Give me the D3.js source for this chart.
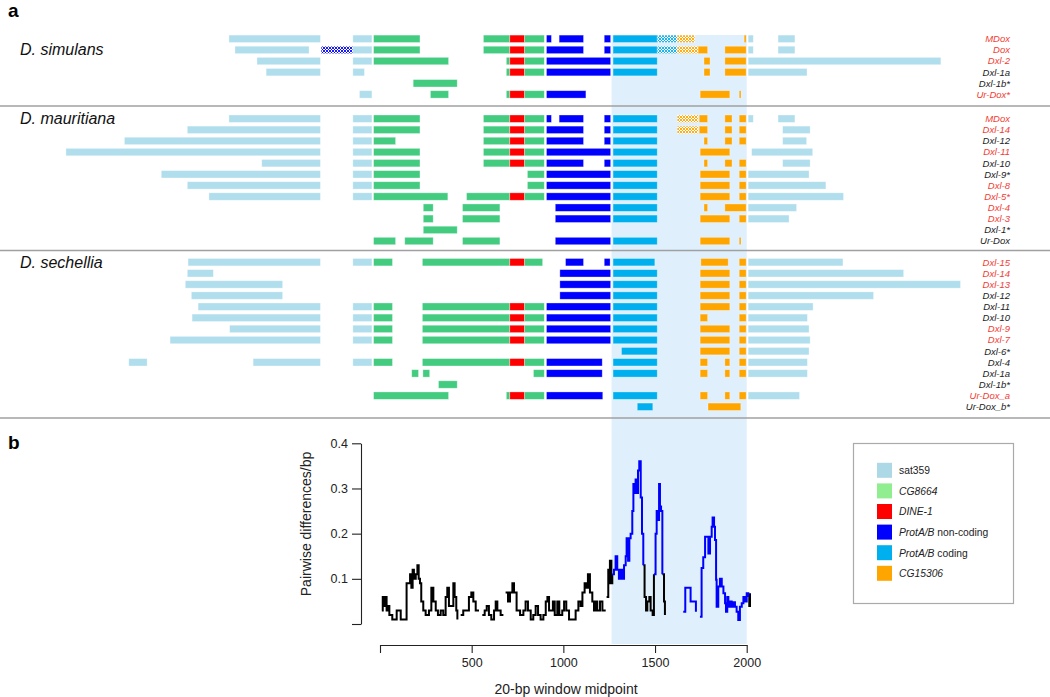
<!DOCTYPE html>
<html>
<head>
<meta charset="utf-8">
<script src="https://cdn.jsdelivr.net/npm/d3@7"></script>
<style>
  body { margin: 0; background: #fff; }
  text { font-family: "Liberation Sans", Arial, Helvetica, sans-serif; }
</style>
</head>
<body>
<script>
const WIDTH = 1050
const HEIGHT = 697

// segment types: s sat359, g CG8664, r DINE-1, n ProtA/B non-coding, c ProtA/B coding, o CG15306
// h* = hatched (partial) version of the same type
const TYPE_COLORS = { s: '#b1deed', g: '#43cc80', r: '#ff0000', n: '#0000ff', c: '#00b0ee', o: '#ffa500' }

const LEGEND_COLORS = ['#add8e6', '#90ee90', '#ff0000', '#0000ff', '#00b0ee', '#ffa500']
const LEGEND_ITALIC = ['', 'CG8664', 'DINE-1', 'ProtA/B', 'ProtA/B', 'CG15306']
const LEGEND_PLAIN = ['sat359', '', '', ' non-coding', ' coding', '']

const SPECIES = ['D. simulans', 'D. mauritiana', 'D. sechellia']

// positions in bp, same coordinates as panel b
const simulans = [
  { label: 'MDox', red: true, segs: [['s',-824,-325],['s',-148,-44],['g',-35,218],['g',564,708],['r',708,789],['g',789,896],['n',908,935],['n',977,1110],['n',1223,1258],['c',1271,1512],['hc',1512,1621],['ho',1621,1717],['o',1986,1997],['s',2008,2036],['s',2171,2263]] },
  { label: 'Dox', red: true, segs: [['s',-791,-387],['hn',-321,-148],['s',-148,-44],['g',-35,218],['g',564,708],['r',708,789],['g',789,896],['n',908,1110],['n',1223,1258],['c',1271,1512],['hc',1512,1621],['ho',1621,1735],['o',1735,1787],['o',1881,1997],['s',2008,2036],['s',2171,2263]] },
  { label: 'Dxl-2', red: true, segs: [['s',-671,-325],['s',-148,-44],['g',-35,374],['g',689,708],['r',708,789],['g',789,896],['n',908,1258],['c',1271,1512],['o',1767,1800],['o',1881,1997],['s',2008,3059]] },
  { label: 'Dxl-1a', red: false, segs: [['s',-621,-325],['s',-148,-85],['g',689,708],['r',708,789],['g',789,896],['n',908,1258],['c',1271,1512],['o',1767,1800],['o',1881,1997],['s',2008,2329]] },
  { label: 'Dxl-1b*', red: false, segs: [['g',181,421]] },
  { label: 'Ur-Dox*', red: true, segs: [['s',-112,-44],['g',275,374],['g',689,708],['r',708,789],['g',789,896],['n',908,1123],['o',1746,1908],['o',1959,1969]] }
]

const mauritiana = [
  { label: 'MDox', red: true, segs: [['s',-824,-325],['s',-148,-44],['g',-35,218],['g',564,708],['r',708,789],['g',789,896],['n',908,935],['n',977,1110],['n',1223,1258],['c',1271,1512],['ho',1621,1735],['o',1741,1787],['o',1881,1920],['o',1959,1997],['s',2008,2036],['s',2171,2263]] },
  { label: 'Dxl-14', red: true, segs: [['s',-1051,-325],['s',-148,-44],['g',-35,218],['g',564,708],['r',708,789],['g',789,896],['n',908,1110],['n',1223,1258],['c',1271,1512],['ho',1621,1735],['o',1741,1787],['o',1881,1920],['o',1959,1997],['s',2196,2346]] },
  { label: 'Dxl-12', red: false, segs: [['s',-1394,-325],['s',-148,-44],['g',-35,85],['g',564,708],['r',708,789],['g',789,896],['n',908,1110],['n',1223,1258],['c',1271,1512],['o',1767,1787],['o',1881,1920],['o',1959,1997],['s',2196,2327]] },
  { label: 'Dxl-11', red: true, segs: [['s',-1713,-325],['s',-148,-44],['g',-35,218],['g',564,708],['r',708,789],['g',789,896],['n',908,1258],['c',1271,1512],['o',1746,1908],['s',2027,2360]] },
  { label: 'Dxl-10', red: false, segs: [['s',-645,-325],['s',-148,-44],['g',-35,218],['g',564,708],['r',708,789],['g',789,896],['n',908,1110],['n',1223,1258],['c',1271,1512],['o',1767,1787],['o',1881,1920],['o',1959,1997],['s',2196,2346]] },
  { label: 'Dxl-9*', red: false, segs: [['s',-1193,-325],['s',-148,-44],['g',-35,218],['g',804,896],['n',908,1258],['c',1271,1512],['o',1746,1908],['o',1959,1997],['s',2008,2340]] },
  { label: 'Dxl-8', red: true, segs: [['s',-1051,-325],['s',-148,-44],['g',-35,218],['g',804,896],['n',908,1258],['c',1271,1512],['o',1746,1908],['o',1959,1997],['s',2008,2432]] },
  { label: 'Dxl-5*', red: true, segs: [['s',-933,-325],['s',-148,-44],['g',-35,370],['g',472,708],['r',708,789],['g',789,896],['n',908,1258],['c',1271,1512],['o',1746,1908],['o',1959,1997],['s',2008,2528]] },
  { label: 'Dxl-4', red: true, segs: [['g',236,290],['g',450,654],['n',956,1258],['c',1271,1512],['o',1767,1787],['o',1881,1997],['s',2008,2272]] },
  { label: 'Dxl-3', red: true, segs: [['g',236,290],['g',450,654],['n',956,1258],['c',1271,1512],['o',1746,1908],['o',1959,1997],['s',2008,2231]] },
  { label: 'Dxl-1*', red: false, segs: [['g',236,421]] },
  { label: 'Ur-Dox', red: false, segs: [['g',-35,85],['g',135,290],['g',450,654],['n',956,1258],['c',1271,1512],['o',1746,1908],['o',1959,1969]] }
]

const sechellia = [
  { label: 'Dxl-15', red: true, segs: [['s',-1047,-325],['s',-148,-44],['g',-35,68],['g',231,708],['r',708,789],['g',789,887],['n',1012,1110],['n',1223,1255],['c',1271,1499],['o',1750,1899],['o',1959,1997],['s',2008,2525]] },
  { label: 'Dxl-14', red: true, segs: [['s',-1051,-909],['n',981,1258],['c',1271,1512],['o',1746,1908],['o',1959,1997],['s',2008,2856]] },
  { label: 'Dxl-13', red: true, segs: [['s',-1062,-531],['n',981,1258],['c',1271,1512],['o',1746,1908],['o',1959,1997],['s',2008,3166]] },
  { label: 'Dxl-12', red: false, segs: [['s',-1029,-531],['n',981,1258],['c',1271,1512],['o',1746,1908],['o',1959,1997],['s',2008,2692]] },
  { label: 'Dxl-11', red: false, segs: [['s',-992,-325],['s',-148,-44],['g',-35,68],['g',231,708],['r',708,789],['g',789,896],['n',908,1258],['c',1271,1512],['o',1746,1908],['o',1959,1997],['s',2008,2362]] },
  { label: 'Dxl-10', red: false, segs: [['s',-1025,-325],['s',-148,-44],['g',-35,68],['g',231,708],['r',708,789],['g',789,896],['n',908,1258],['c',1271,1512],['o',1746,1787],['o',1959,1997],['s',2008,2331]] },
  { label: 'Dxl-9', red: true, segs: [['s',-820,-325],['s',-148,-44],['g',-35,68],['g',231,708],['r',708,789],['g',789,896],['n',908,1258],['c',1271,1512],['o',1746,1908],['o',1959,1997],['s',2008,2340]] },
  { label: 'Dxl-7', red: true, segs: [['s',-1145,-325],['s',-148,-44],['g',-35,68],['g',231,708],['r',708,789],['g',789,896],['n',908,1258],['c',1271,1512],['o',1746,1908],['o',1959,1997],['s',2008,2346]] },
  { label: 'Dxl-6*', red: false, segs: [['c',1317,1512],['o',1746,1908],['o',1959,1997],['s',2008,2340]] },
  { label: 'Dxl-4', red: false, segs: [['s',-1370,-1270],['s',-692,-325],['s',-148,-44],['g',-35,68],['g',231,708],['r',708,789],['g',789,896],['n',908,1212],['c',1271,1512],['o',1746,1787],['o',1881,1908],['o',1959,1997],['s',2008,2331]] },
  { label: 'Dxl-1a', red: false, segs: [['g',173,210],['g',234,271],['g',837,896],['n',908,1212],['c',1271,1512],['o',1746,1787],['o',1881,1908],['o',1959,1997],['s',2008,2331]] },
  { label: 'Dxl-1b*', red: false, segs: [['g',319,421]] },
  { label: 'Ur-Dox_a', red: true, segs: [['g',-35,374],['g',689,708],['r',708,789],['g',789,896],['n',908,1215],['c',1271,1512],['o',1746,1787],['o',1881,1908],['o',1959,1997],['s',2008,2288]] },
  { label: 'Ur-Dox_b*', red: false, segs: [['c',1403,1488],['o',1789,1968]] }
]

// pairwise differences per bp, 20-bp windows [midpoint, value]
const blackRuns = [
  [[10,.03],[15,.06],[20,.04],[25,.06],[36,.03],[44,.04],[51,.02],[67,.01],[85,.01],[91,.03],[109,.03],[113,.01],[140,.01],[145,.09],[158,.09],[164,.11],[171,.08],[178,.12],[185,.10],[195,.11],[204,.13],[211,.10],[218,.09],[225,.05],[236,.03],[249,.02],[267,.03],[280,.08],[291,.05],[304,.03],[316,.02],[331,.03],[345,.02],[358,.06],[367,.08],[376,.04],[385,.04],[400,.09],[407,.06],[416,.03],[422,.01]],
  [[440,.02],[454,.03],[473,.03],[485,.06],[498,.07],[509,.05],[522,.03],[540,.03]],
  [[558,.02],[571,.03],[582,.04],[594,.02],[607,.01],[622,.03],[631,.05],[640,.03],[658,.02],[673,.02]],
  [[685,.07],[698,.05],[709,.07],[722,.09],[731,.07],[745,.03],[764,.02],[782,.03],[794,.05],[807,.03],[822,.01],[836,.02],[849,.04],[862,.02],[876,.01],[891,.02],[904,.05],[913,.06],[922,.03],[934,.03],[943,.05],[953,.02],[967,.05],[978,.02],[994,.03],[1004,.05],[1016,.03],[1031,.01],[1054,.01],[1067,.03],[1082,.05],[1094,.04],[1104,.07],[1116,.09],[1127,.08],[1134,.11],[1145,.07],[1158,.05],[1167,.03],[1176,.05],[1185,.03],[1200,.05],[1213,.03],[1231,.03]],
  [[1236,.06],[1245,.12],[1249,.09],[1254,.14],[1262,.09],[1267,.11]],
  [[1436,.13],[1443,.06],[1451,.03],[1458,.05],[1469,.06],[1476,.03],[1487,.02],[1494,.11]],
  [[1540,.11],[1549,.05],[1554,.02]],
  [[2009,.06],[2014,.04],[2018,.068]]
]

const blueRuns = [
  [[1267,.11],[1276,.12],[1285,.15],[1294,.12],[1303,.10],[1313,.12],[1322,.10],[1331,.13],[1340,.15],[1345,.19],[1353,.14],[1360,.19],[1367,.20],[1376,.25],[1382,.31],[1389,.29],[1394,.32],[1400,.29],[1407,.34],[1414,.36],[1422,.28],[1429,.20],[1436,.13]],
  [[1494,.11],[1503,.20],[1509,.25],[1516,.23],[1522,.31],[1527,.26],[1533,.25],[1540,.11]],
  [[1654,.027],[1665,.08],[1687,.08],[1694,.05],[1709,.05],[1723,.027]],
  [[1745,.016],[1754,.124],[1763,.148],[1773,.193],[1782,.193],[1791,.156],[1800,.193],[1809,.215],[1814,.236],[1822,.215],[1827,.186],[1833,.098],[1836,.038],[1845,.083],[1854,.1],[1864,.083],[1873,.068],[1882,.046],[1887,.027],[1894,.06],[1900,.038],[1909,.05],[1918,.038],[1927,.048],[1936,.038],[1945,.027],[1954,.009],[1963,.038],[1973,.046],[1982,.06],[1991,.05],[2000,.068],[2009,.06]]
]

const X_TICKS = [0, 500, 1000, 1500, 2000]
const Y_TICKS = [0, 0.1, 0.2, 0.3, 0.4]
const SHADE = [1263, 2000]

const svg = d3.select('body')
  .append('svg')
  .attr('width', WIDTH)
  .attr('height', HEIGHT)

// hatched fills
const defs = svg.append('defs')
const hatch = (id, color) => {
  const p = defs.append('pattern')
    .attr('id', id)
    .attr('width', 3)
    .attr('height', 3)
    .attr('patternUnits', 'userSpaceOnUse')
  p.append('rect').attr('width', 3).attr('height', 3).attr('fill', '#fff')
  p.append('path')
    .attr('d', 'M-1,1 L1,-1 M0,3 L3,0 M2,4 L4,2 M-1,2 L1,4 M0,0 L3,3 M2,-1 L4,1')
    .attr('stroke', color)
    .attr('stroke-width', 0.9)
}
hatch('hn', TYPE_COLORS.n)
hatch('hc', TYPE_COLORS.c)
hatch('ho', TYPE_COLORS.o)

const fillOf = t => t.length > 1 ? `url(#${t})` : TYPE_COLORS[t]

// shared bp scale (panel b axis, extended for panel a)
const x = d3.scaleLinear().domain([0, 2000]).range([380, 746.7])
const yB = d3.scaleLinear().domain([0, 0.4]).range([624, 443.3])

// shaded region through both panels
svg.append('rect')
  .attr('x', x(SHADE[0]))
  .attr('y', 35)
  .attr('width', x(SHADE[1]) - x(SHADE[0]))
  .attr('height', 644 - 35)
  .attr('fill', '#dff0fc')

// panel labels
svg.append('text').attr('x', 8).attr('y', 17).attr('font-size', 19).attr('font-weight', 'bold').text('a')
svg.append('text').attr('x', 8).attr('y', 449).attr('font-size', 19).attr('font-weight', 'bold').text('b')

// ---- panel a ----
const ROW_STEP = 11.12
const BAR_H = 7.4
const groups = [
  { rows: simulans, y0: 38.8, labelRow: 1 },
  { rows: mauritiana, y0: 118.7, labelRow: 0 },
  { rows: sechellia, y0: 262.2, labelRow: 0 }
]
const SEPARATORS = [106, 250.5, 418]

groups.forEach((grp, gi) => {
  const g = svg.append('g')
  const rowY = i => grp.y0 + i * ROW_STEP

  grp.rows.forEach((row, i) => {
    g.selectAll(null)
      .data(row.segs)
      .enter()
      .append('rect')
      .attr('x', d => x(d[1]))
      .attr('y', rowY(i) - BAR_H / 2)
      .attr('width', d => x(d[2]) - x(d[1]))
      .attr('height', BAR_H)
      .attr('fill', d => fillOf(d[0]))
      .attr('stroke', '#fff')
      .attr('stroke-opacity', 0.45)
      .attr('stroke-width', 0.7)
  })

  // row names on the right
  g.selectAll('text.row')
    .data(grp.rows)
    .enter()
    .append('text')
    .attr('class', 'row')
    .attr('x', 1010)
    .attr('y', (d, i) => rowY(i) + 3.4)
    .attr('text-anchor', 'end')
    .attr('font-size', 9.5)
    .attr('font-style', 'italic')
    .attr('fill', d => d.red ? '#f23c32' : '#222')
    .text(d => d.label)

  g.append('text')
    .attr('x', 20)
    .attr('y', rowY(grp.labelRow) + 5.5)
    .attr('font-size', 16)
    .attr('font-style', 'italic')
    .attr('fill', '#111')
    .text(SPECIES[gi])
})

svg.selectAll('line.sep')
  .data(SEPARATORS)
  .enter()
  .append('line')
  .attr('class', 'sep')
  .attr('x1', 0)
  .attr('x2', WIDTH)
  .attr('y1', d => d)
  .attr('y2', d => d)
  .attr('stroke', '#a0a0a0')
  .attr('stroke-width', 1.3)

// ---- panel b ----
const line = d3.line()
  .x(d => x(d[0]))
  .y(d => yB(d[1]))
  .curve(d3.curveStepAfter)

svg.append('g')
  .selectAll('path')
  .data(blackRuns)
  .enter()
  .append('path')
  .attr('d', line)
  .attr('fill', 'none')
  .attr('stroke', '#000')
  .attr('stroke-width', 2)

svg.append('g')
  .selectAll('path')
  .data(blueRuns)
  .enter()
  .append('path')
  .attr('d', line)
  .attr('fill', 'none')
  .attr('stroke', '#0000ff')
  .attr('stroke-width', 2)

const yAxis = svg.append('g')
  .attr('transform', 'translate(361,0)')
  .call(d3.axisLeft(yB)
    .tickValues(Y_TICKS)
    .tickFormat(d => d === 0 ? '' : d3.format('.1f')(d))
    .tickSize(9)
    .tickSizeOuter(0)
    .tickPadding(4))

const xAxis = svg.append('g')
  .attr('transform', 'translate(0,645)')
  .call(d3.axisBottom(x)
    .tickValues(X_TICKS)
    .tickFormat(d => d === 0 ? '' : d)
    .tickSize(8)
    .tickSizeOuter(0)
    .tickPadding(5))

;[yAxis, xAxis].forEach(a => {
  a.attr('font-family', null).attr('font-size', null)
  a.selectAll('text').attr('font-size', 12.5).attr('fill', '#222')
  a.selectAll('line, path').attr('stroke', '#222').attr('stroke-width', 1.1)
})

svg.append('text')
  .attr('transform', 'translate(311,524) rotate(-90)')
  .attr('text-anchor', 'middle')
  .attr('font-size', 14)
  .attr('fill', '#222')
  .text('Pairwise differences/bp')

svg.append('text')
  .attr('x', 566)
  .attr('y', 694)
  .attr('text-anchor', 'middle')
  .attr('font-size', 14)
  .attr('fill', '#222')
  .text('20-bp window midpoint')

// ---- legend ----
const legend = svg.append('g')
legend.append('rect')
  .attr('x', 853.5)
  .attr('y', 443.5)
  .attr('width', 160)
  .attr('height', 160)
  .attr('fill', 'none')
  .attr('stroke', '#aaa')
  .attr('stroke-width', 1.2)

const LEG_Y0 = 470.3
const LEG_STEP = 20.6
legend.selectAll('rect.key')
  .data(LEGEND_COLORS)
  .enter()
  .append('rect')
  .attr('class', 'key')
  .attr('x', 877)
  .attr('y', (d, i) => LEG_Y0 + i * LEG_STEP - 7.5)
  .attr('width', 15)
  .attr('height', 15)
  .attr('fill', d => d)

const legText = legend.selectAll('text')
  .data(LEGEND_PLAIN)
  .enter()
  .append('text')
  .attr('x', 899)
  .attr('y', (d, i) => LEG_Y0 + i * LEG_STEP + 3.8)
  .attr('font-size', 10.3)
  .attr('fill', '#222')
  .style('white-space', 'pre')
legText.append('tspan').attr('font-style', 'italic').text((d, i) => LEGEND_ITALIC[i])
legText.append('tspan').text(d => d)
</script>
</body>
</html>
